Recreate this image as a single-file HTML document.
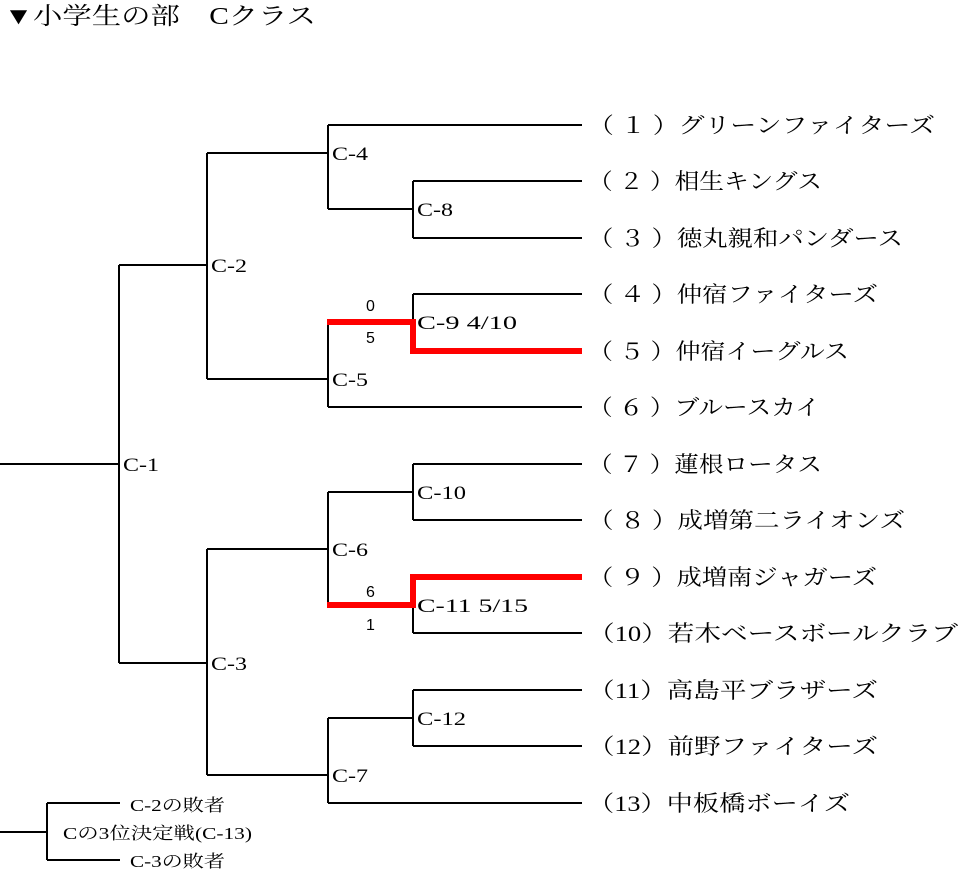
<!DOCTYPE html>
<html><head><meta charset="utf-8"><style>
html,body{margin:0;padding:0;background:#fff;}
svg{display:block;}
text{font-family:"Liberation Serif","Noto Serif CJK SC",serif;fill:#000;}
.t{font-size:22px;}
.l{font-size:19px;}
.s{font-size:17px;}
text.n{font-family:"Liberation Sans",sans-serif;font-size:16px;}
</style></head><body>
<svg width="959" height="871" viewBox="0 0 959 871" xmlns="http://www.w3.org/2000/svg">
<text x="4" y="24" style="font-size:24px" textLength="312" lengthAdjust="spacingAndGlyphs">▼小学生の部　Cクラス</text>
<g stroke="#000" stroke-width="2" fill="none">
<line x1="328" y1="125" x2="582" y2="125"/>
<line x1="413" y1="181" x2="582" y2="181"/>
<line x1="413" y1="238" x2="582" y2="238"/>
<line x1="413" y1="294" x2="582" y2="294"/>
<line x1="328" y1="407" x2="582" y2="407"/>
<line x1="413" y1="464" x2="582" y2="464"/>
<line x1="413" y1="520" x2="582" y2="520"/>
<line x1="413" y1="633" x2="582" y2="633"/>
<line x1="413" y1="690" x2="582" y2="690"/>
<line x1="413" y1="746" x2="582" y2="746"/>
<line x1="328" y1="803" x2="582" y2="803"/>
<line x1="328" y1="125" x2="328" y2="209"/>
<line x1="328" y1="209" x2="413" y2="209"/>
<line x1="413" y1="181" x2="413" y2="238"/>
<line x1="413" y1="294" x2="413" y2="322"/>
<line x1="328" y1="322" x2="328" y2="407"/>
<line x1="207" y1="153" x2="328" y2="153"/>
<line x1="207" y1="153" x2="207" y2="379"/>
<line x1="207" y1="379" x2="328" y2="379"/>
<line x1="413" y1="464" x2="413" y2="520"/>
<line x1="328" y1="492" x2="413" y2="492"/>
<line x1="328" y1="492" x2="328" y2="605"/>
<line x1="413" y1="605" x2="413" y2="633"/>
<line x1="413" y1="690" x2="413" y2="746"/>
<line x1="328" y1="718" x2="413" y2="718"/>
<line x1="328" y1="718" x2="328" y2="803"/>
<line x1="207" y1="549" x2="328" y2="549"/>
<line x1="207" y1="549" x2="207" y2="775"/>
<line x1="207" y1="775" x2="328" y2="775"/>
<line x1="119" y1="265" x2="207" y2="265"/>
<line x1="119" y1="265" x2="119" y2="663"/>
<line x1="119" y1="663" x2="207" y2="663"/>
<line x1="0" y1="464" x2="119" y2="464"/>
<line x1="0" y1="832" x2="47" y2="832"/>
<line x1="47" y1="803" x2="47" y2="860"/>
<line x1="47" y1="803" x2="120" y2="803"/>
<line x1="47" y1="860" x2="120" y2="860"/>
</g>
<g stroke="#f00" stroke-width="6" fill="none" stroke-linejoin="miter">
<polyline points="327,322 413,322 413,351 582,351"/>
<polyline points="327,605 413,605 413,577 582,577"/>
</g>
<g class="l">
<text x="332" y="160" textLength="36" lengthAdjust="spacingAndGlyphs">C-4</text>
<text x="417" y="216" textLength="36" lengthAdjust="spacingAndGlyphs">C-8</text>
<text x="211" y="272" textLength="36" lengthAdjust="spacingAndGlyphs">C-2</text>
<text x="417" y="329" textLength="100" lengthAdjust="spacingAndGlyphs">C-9 4/10</text>
<text x="332" y="386" textLength="36" lengthAdjust="spacingAndGlyphs">C-5</text>
<text x="123" y="471" textLength="36" lengthAdjust="spacingAndGlyphs">C-1</text>
<text x="417" y="499" textLength="49" lengthAdjust="spacingAndGlyphs">C-10</text>
<text x="332" y="556" textLength="36" lengthAdjust="spacingAndGlyphs">C-6</text>
<text x="417" y="612" textLength="111" lengthAdjust="spacingAndGlyphs">C-11 5/15</text>
<text x="211" y="670" textLength="36" lengthAdjust="spacingAndGlyphs">C-3</text>
<text x="417" y="725" textLength="49" lengthAdjust="spacingAndGlyphs">C-12</text>
<text x="332" y="782" textLength="36" lengthAdjust="spacingAndGlyphs">C-7</text>
</g>
<text class="n" x="366" y="311">0</text>
<text class="n" x="366" y="343">5</text>
<text class="n" x="366" y="597">6</text>
<text class="n" x="366" y="630">1</text>
<g class="s">
<text x="130" y="811" textLength="95" lengthAdjust="spacingAndGlyphs">C-2の敗者</text>
<text x="63" y="839" textLength="189" lengthAdjust="spacingAndGlyphs">Cの3位決定戦(C-13)</text>
<text x="130" y="867" textLength="95" lengthAdjust="spacingAndGlyphs">C-3の敗者</text>
</g>
<g class="t">
<text x="588" y="133" textLength="347" lengthAdjust="spacingAndGlyphs">（ １ ）グリーンファイターズ</text>
<text x="588" y="189" textLength="234" lengthAdjust="spacingAndGlyphs">（ ２ ）相生キングス</text>
<text x="588" y="246" textLength="315" lengthAdjust="spacingAndGlyphs">（ ３ ）徳丸親和パンダース</text>
<text x="588" y="302" textLength="290" lengthAdjust="spacingAndGlyphs">（ ４ ）仲宿ファイターズ</text>
<text x="588" y="359" textLength="261" lengthAdjust="spacingAndGlyphs">（ ５ ）仲宿イーグルス</text>
<text x="588" y="415" textLength="232" lengthAdjust="spacingAndGlyphs">（ ６ ）ブルースカイ</text>
<text x="588" y="472" textLength="234" lengthAdjust="spacingAndGlyphs">（ ７ ）蓮根ロータス</text>
<text x="588" y="528" textLength="317" lengthAdjust="spacingAndGlyphs">（ ８ ）成増第二ライオンズ</text>
<text x="588" y="585" textLength="289" lengthAdjust="spacingAndGlyphs">（ ９ ）成増南ジャガーズ</text>
<text x="588" y="641" textLength="370" lengthAdjust="spacingAndGlyphs">（10）若木ベースボールクラブ</text>
<text x="588" y="698" textLength="290" lengthAdjust="spacingAndGlyphs">（11）高島平ブラザーズ</text>
<text x="588" y="754" textLength="290" lengthAdjust="spacingAndGlyphs">（12）前野ファイターズ</text>
<text x="588" y="811" textLength="262" lengthAdjust="spacingAndGlyphs">（13）中板橋ボーイズ</text>
</g>
</svg>
</body></html>
